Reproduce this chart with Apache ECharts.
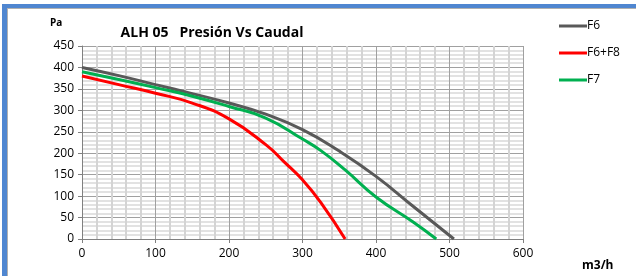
<!DOCTYPE html>
<html>
<head>
<meta charset="utf-8">
<script src="https://cdn.jsdelivr.net/npm/echarts@6/dist/echarts.min.js"></script>
<style>
  html, body { margin: 0; padding: 0; background: #fff; }
  #bar-top { position: absolute; left: 2px; top: 4px; width: 634px; height: 4px; background: #4f86d0; }
  #bar-left { position: absolute; left: 2px; top: 4px; width: 5px; height: 272px; background: #4f86d0; }
  #line-top { position: absolute; left: 7px; top: 8px; width: 629px; height: 1px; background: #b0b0b0; }
  #line-left { position: absolute; left: 7px; top: 8px; width: 1px; height: 268px; background: #b0b0b0; }
  #chart { position: absolute; left: 0; top: 0; width: 636px; height: 276px; }
</style>
</head>
<body>
<div id="chart"></div>
<div id="bar-top"></div>
<div id="bar-left"></div>
<div id="line-top"></div>
<div id="line-left"></div>
<script>
// caudal (m3/h) and presión (Pa)
const f6Flow = [0, 50, 100, 150, 200, 250, 300, 350, 400, 450, 506]
const f6Pres = [400, 381, 360, 339, 317, 291, 255, 205, 146, 77, 0]

const f6f8Flow = [0, 50, 100, 150, 200, 250, 275, 300, 325, 358]
const f6f8Pres = [380, 360, 340, 317, 280, 220, 180, 138, 85, 0]

const f7Flow = [0, 50, 100, 150, 200, 250, 300, 325, 358, 400, 450, 482]
const f7Pres = [390, 372, 353, 333, 309, 282, 233, 206, 161, 98, 40, 0]

const seriesNames = ['F6', 'F6+F8', 'F7']
const colors = ['#595959', '#ff0000', '#00b050']

const pairs = (xs, ys) => xs.map((x, i) => [x, ys[i]])

const chart = echarts.init(document.getElementById('chart'))

const lineSeries = (name, data, color) => ({
  name,
  type: 'line',
  data,
  smooth: 0.5,
  symbol: 'none',
  lineStyle: { color, width: 3 },
  itemStyle: { color }
})

chart.setOption({
  animation: false,
  textStyle: { fontFamily: 'Open Sans, sans-serif' },
  title: [
    {
      text: 'ALH 05   Presión Vs Caudal',
      left: 207, top: 21,
      textAlign: 'center',
      textStyle: { fontSize: 14, fontWeight: 'bold', color: '#000', fontFamily: 'Open Sans, sans-serif' }
    },
    {
      text: 'Pa',
      left: 45, top: 13,
      textStyle: { fontSize: 10, fontWeight: 'bold', color: '#000' }
    },
    {
      text: 'm3/h',
      left: 577, top: 255,
      textStyle: { fontSize: 12, fontWeight: 'bold', color: '#000' }
    }
  ],
  legend: {
    orient: 'vertical',
    left: 554, top: 15,
    itemWidth: 28, itemHeight: 3, itemGap: 15,
    icon: 'rect',
    textStyle: { fontSize: 12, color: '#000', padding: [0, 0, 0, -5] },
    data: seriesNames
  },
  grid: { left: 82, right: 113, top: 46, bottom: 37 },
  xAxis: {
    type: 'value',
    min: 0, max: 600, interval: 100,
    axisLine: { lineStyle: { color: '#808080' } },
    axisTick: { show: true, length: 4, lineStyle: { color: '#808080' } },
    axisLabel: { fontSize: 12, color: '#000', margin: 9 },
    splitLine: { show: true, lineStyle: { color: '#a0a0a0', width: 1 } },
    minorTick: { show: false, splitNumber: 5 },
    minorSplitLine: { show: true, lineStyle: { color: '#d4d4d4', width: 2 } }
  },
  yAxis: {
    type: 'value',
    min: 0, max: 450, interval: 50,
    axisLine: { show: true, lineStyle: { color: '#808080' } },
    axisTick: { show: true, length: 4, lineStyle: { color: '#808080' } },
    axisLabel: { fontSize: 12, color: '#000', margin: 8 },
    splitLine: { show: true, lineStyle: { color: '#a0a0a0', width: 1 } },
    minorTick: { show: false, splitNumber: 5 },
    minorSplitLine: { show: true, lineStyle: { color: '#d9d9d9', width: 1.5 } }
  },
  series: [
    lineSeries(seriesNames[0], pairs(f6Flow, f6Pres), colors[0]),
    lineSeries(seriesNames[1], pairs(f6f8Flow, f6f8Pres), colors[1]),
    lineSeries(seriesNames[2], pairs(f7Flow, f7Pres), colors[2])
  ]
})
</script>
</body>
</html>
